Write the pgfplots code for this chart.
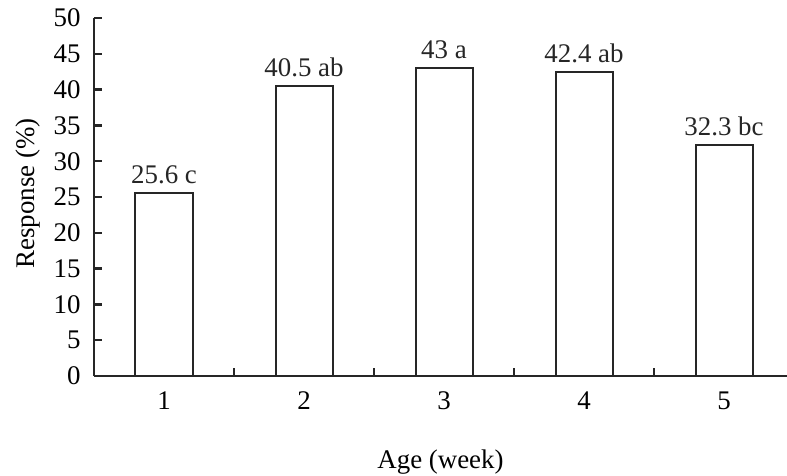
\documentclass[border=0pt]{standalone}
\usepackage{fontspec}
\setmainfont{Liberation Serif}
\usepackage{pgfplots}
\usepackage{pgfplotstable}
\pgfplotsset{compat=1.18}
\pgfplotstableread{
x y label
1 25.6 {25.6 c}
2 40.5 {40.5 ab}
3 43 {43 a}
4 42.4 {42.4 ab}
5 32.3 {32.3 bc}
}\datatable
\begin{document}
\begin{tikzpicture}
\begin{axis}[
  scale only axis,
  width=693bp, height=358bp,
  xmin=0.5, xmax=5.45,
  ymin=0, ymax=50,
  ytick={0,5,...,50},
  xtick={1.5,2.5,3.5,4.5},
  xticklabels={},
  extra x ticks={1,2,3,4,5},
  extra x tick labels={1,2,3,4,5},
  extra x tick style={major tick length=0pt},
  axis x line*=bottom,
  axis y line*=left,
  axis line style={line width=2.4bp, black!85, -},
  tick style={line width=2.4bp, black!85},
  tick align=inside,
  major tick length=8bp,
  xtick style={yshift=8bp},
  font=\fontsize{27}{32}\selectfont,
  /pgf/number format/assume math mode=true,
  yticklabel style={anchor=east, xshift=-10bp, font=\fontsize{27}{32}\selectfont},
  xticklabel style={anchor=north, yshift=-12bp, font=\fontsize{27}{32}\selectfont},
  xlabel={Age (week)},
  ylabel={Response (\%)},
  xlabel style={at={(axis description cs:0.5,-0.24)}, anchor=center, font=\fontsize{27}{32}\selectfont},
  ylabel style={at={(axis description cs:-0.095,0.51)}, anchor=center, rotate=0, font=\fontsize{27}{32}\selectfont},
  ybar,
  bar width=57bp,
  nodes near coords={\pgfplotspointmeta},
  point meta=explicit symbolic,
  nodes near coords style={font=\fontsize{27}{32}\selectfont, anchor=south, yshift=5bp, black!85},
  clip=false,
]
\addplot[draw=black!85, fill=white, line width=2bp] table[x=x, y=y, meta=label] {\datatable};
\end{axis}
\pgfresetboundingbox
\useasboundingbox (-94bp,-100bp) rectangle (693bp,376bp);
\end{tikzpicture}
\end{document}
